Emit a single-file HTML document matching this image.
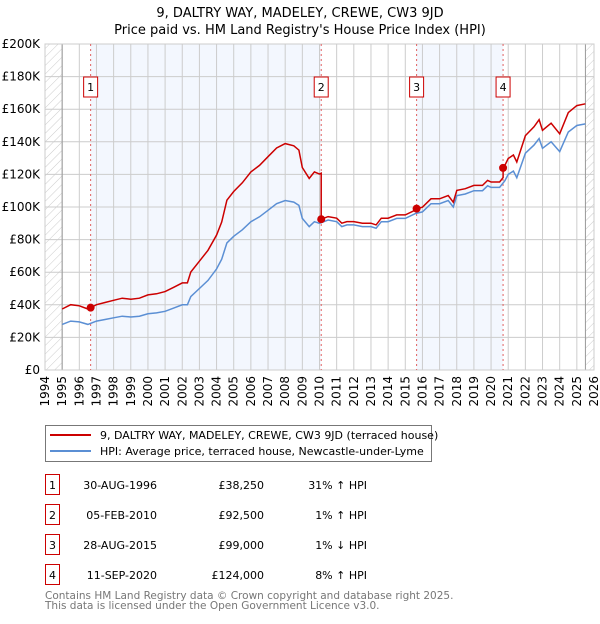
<!DOCTYPE html>
<html><head><meta charset="utf-8"><style>
body{margin:0;background:#fff;font-family:"DejaVu Sans","Liberation Sans",sans-serif;}
svg text{font-family:"DejaVu Sans","Liberation Sans",sans-serif;}
</style></head><body>
<svg id="c" width="600" height="620" xmlns="http://www.w3.org/2000/svg">
<defs><pattern id="hatch" width="6" height="6" patternUnits="userSpaceOnUse" patternTransform="rotate(45)"><line x1="0" y1="0" x2="0" y2="6" stroke="#ccc" stroke-width="1"/></pattern></defs>
<text x="300" y="17" text-anchor="middle" font-size="13">9, DALTRY WAY, MADELEY, CREWE, CW3 9JD</text>
<text x="300" y="34" text-anchor="middle" font-size="13">Price paid vs. HM Land Registry's House Price Index (HPI)</text>
<g id="plot"></g>
<g>
<rect x="45.5" y="425.5" width="386" height="36" fill="#fff" stroke="#777"/>
<line x1="50" y1="435" x2="91" y2="435" stroke="#cc0000" stroke-width="2"/>
<text x="100" y="439" font-size="11">9, DALTRY WAY, MADELEY, CREWE, CW3 9JD (terraced house)</text>
<line x1="50" y1="451" x2="91" y2="451" stroke="#5b8fd4" stroke-width="2"/>
<text x="100" y="455" font-size="11">HPI: Average price, terraced house, Newcastle-under-Lyme</text>
</g>
<g id="table"></g>
<text x="45" y="599" font-size="10.5" fill="#777">Contains HM Land Registry data © Crown copyright and database right 2025.</text>
<text x="45" y="609" font-size="10.5" fill="#777">This data is licensed under the Open Government Licence v3.0.</text>
</svg>
<script>
const hpiYears=[1995,1995.5,1996,1996.5,1997,1997.5,1998,1998.5,1999,1999.5,2000,2000.5,2001,2001.5,2002,2002.3,2002.5,2003,2003.5,2004,2004.3,2004.6,2005,2005.5,2006,2006.5,2007,2007.5,2008,2008.5,2008.8,2009,2009.4,2009.7,2010,2010.5,2011,2011.3,2011.6,2012,2012.5,2013,2013.3,2013.6,2014,2014.5,2015,2015.6,2016,2016.5,2017,2017.5,2017.8,2018,2018.5,2019,2019.5,2019.8,2020,2020.5,2020.8,2021,2021.3,2021.5,2022,2022.5,2022.8,2023,2023.5,2024,2024.5,2025,2025.5];
const hpiValues=[28,30,29.5,28,30,31,32,33,32.5,33,34.5,35,36,38,40,40,45,50,55,62,68,78,82,86,91,94,98,102,104,103,101,93,88,91,90,92,91,88,89,89,88,88,87,91,91,93,93,96,97,102,102,104,100,107,108,110,110,113,112,112,116,120,122,118,133,138,142,136,140,134,146,150,151];
const saleYears=[1996.66,2010.1,2015.66,2020.7];
const salePrices=[38.25,92.5,99,124];
const saleLabels=["1","2","3","4"];
const saleDates=["30-AUG-1996","05-FEB-2010","28-AUG-2015","11-SEP-2020"];
const salePriceText=["£38,250","£92,500","£99,000","£124,000"];
const saleHpiText=["31% ↑ HPI","1% ↑ HPI","1% ↓ HPI","8% ↑ HPI"];
const yTicks=[0,20,40,60,80,100,120,140,160,180,200];
const yTickLabels=["£0","£20K","£40K","£60K","£80K","£100K","£120K","£140K","£160K","£180K","£200K"];

const NS="http://www.w3.org/2000/svg";
const X0=45,X1=594,Y0=370,Y1=44;
const xs=y=>X0+(y-1994)/32*(X1-X0);
const ys=v=>Y0-v/200*(Y0-Y1);
function mk(tag,attrs,parent){const e=document.createElementNS(NS,tag);for(const k in attrs)e.setAttribute(k,attrs[k]);parent.appendChild(e);return e;}
const plot=document.getElementById('plot');
mk('rect',{x:X0,y:Y1,width:X1-X0,height:Y0-Y1,fill:'#fff'},plot);
[[0,1],[2,3]].forEach(([a,b])=>{const r=mk('rect',{x:xs(saleYears[a]),y:Y1,width:xs(saleYears[b])-xs(saleYears[a]),height:Y0-Y1,fill:'#eef3fd',opacity:0.7},plot);

});
const h1=mk('rect',{x:X0,y:Y1,width:xs(1995)-X0,height:Y0-Y1,fill:'url(#hatch)'},plot);


const h2=mk('rect',{x:xs(2025.5),y:Y1,width:X1-xs(2025.5),height:Y0-Y1,fill:'url(#hatch)'},plot);


for(let i=0;i<yTicks.length;i++){const y=ys(yTicks[i]);
mk('line',{x1:X0,x2:X1,y1:y,y2:y,stroke:'#ccc','stroke-width':1},plot);
const t=mk('text',{x:40,y:y+4,'text-anchor':'end','font-size':12},plot);t.textContent=yTickLabels[i];

}
for(let yr=1994;yr<=2026;yr++){const x=xs(yr);
mk('line',{x1:x,x2:x,y1:Y1,y2:Y0,stroke:'#ccc','stroke-width':1},plot);
const t=mk('text',{x:0,y:0,'text-anchor':'end','font-size':12,transform:`translate(${x+4},${Y0+6}) rotate(-90)`},plot);t.textContent=yr;

}
mk('line',{x1:xs(1995),x2:xs(1995),y1:Y1,y2:Y0,stroke:'#999'},plot);
mk('line',{x1:xs(2025.5),x2:xs(2025.5),y1:Y1,y2:Y0,stroke:'#999'},plot);
mk('rect',{x:X0,y:Y1,width:X1-X0,height:Y0-Y1,fill:'none',stroke:'#ccc'},plot);
function hpiAt(t){for(let i=0;i<hpiYears.length-1;i++){if(t<=hpiYears[i+1]){const f=(t-hpiYears[i])/(hpiYears[i+1]-hpiYears[i]);return hpiValues[i]+f*(hpiValues[i+1]-hpiValues[i]);}}return hpiValues[hpiValues.length-1];}
saleYears.forEach((s,i)=>{const x=xs(s);
const l=mk('line',{x1:x,x2:x,y1:Y1,y2:Y0,stroke:'#e06060','stroke-dasharray':'2,3'},plot);


const g=mk('g',{},plot);


mk('rect',{x:x-7,y:77,width:14,height:20,fill:'#fff',stroke:'#cc0000'},g);
const t=mk('text',{x:x,y:91,'text-anchor':'middle','font-size':11},g);t.textContent=saleLabels[i];});
const hp=hpiYears.map((y,i)=>xs(y).toFixed(1)+','+ys(hpiValues[i]).toFixed(1)).join(' ');
const hl=mk('polyline',{points:hp,fill:'none',stroke:'#5b8fd4','stroke-width':1.5},plot);


const pts=[];
hpiYears.forEach((y,i)=>{let k=0;for(let j=0;j<saleYears.length;j++)if(y>=saleYears[j])k=j;
if(i>0&&k>0&&hpiYears[i-1]<saleYears[k]){const s=saleYears[k];const r0=salePrices[k-1]/hpiAt(saleYears[k-1]);pts.push([s,hpiAt(s)*r0]);pts.push([s,salePrices[k]]);}
pts.push([y,hpiValues[i]*salePrices[k]/hpiAt(saleYears[k])]);});
const pl=mk('polyline',{points:pts.map(p=>xs(p[0]).toFixed(1)+','+ys(p[1]).toFixed(1)).join(' '),fill:'none',stroke:'#cc0000','stroke-width':1.5},plot);


saleYears.forEach((s,i)=>{const c=mk('circle',{cx:xs(s),cy:ys(salePrices[i]),r:4,fill:'#cc0000'},plot);

});
const tb=document.getElementById('table');
saleYears.forEach((s,i)=>{const yc=485+i*30;
const g=mk('g',{},tb);


mk('rect',{x:45.5,y:yc-10.5,width:14,height:20,fill:'#fff',stroke:'#cc0000'},g);
const a=mk('text',{x:52.5,y:yc+4,'text-anchor':'middle','font-size':11},g);a.textContent=saleLabels[i];
const b=mk('text',{x:157,y:yc+4,'text-anchor':'end','font-size':11},g);b.textContent=saleDates[i];
const c=mk('text',{x:264,y:yc+4,'text-anchor':'end','font-size':11},g);c.textContent=salePriceText[i];
const d=mk('text',{x:367,y:yc+4,'text-anchor':'end','font-size':11},g);d.textContent=saleHpiText[i];});
</script>
</body></html>
